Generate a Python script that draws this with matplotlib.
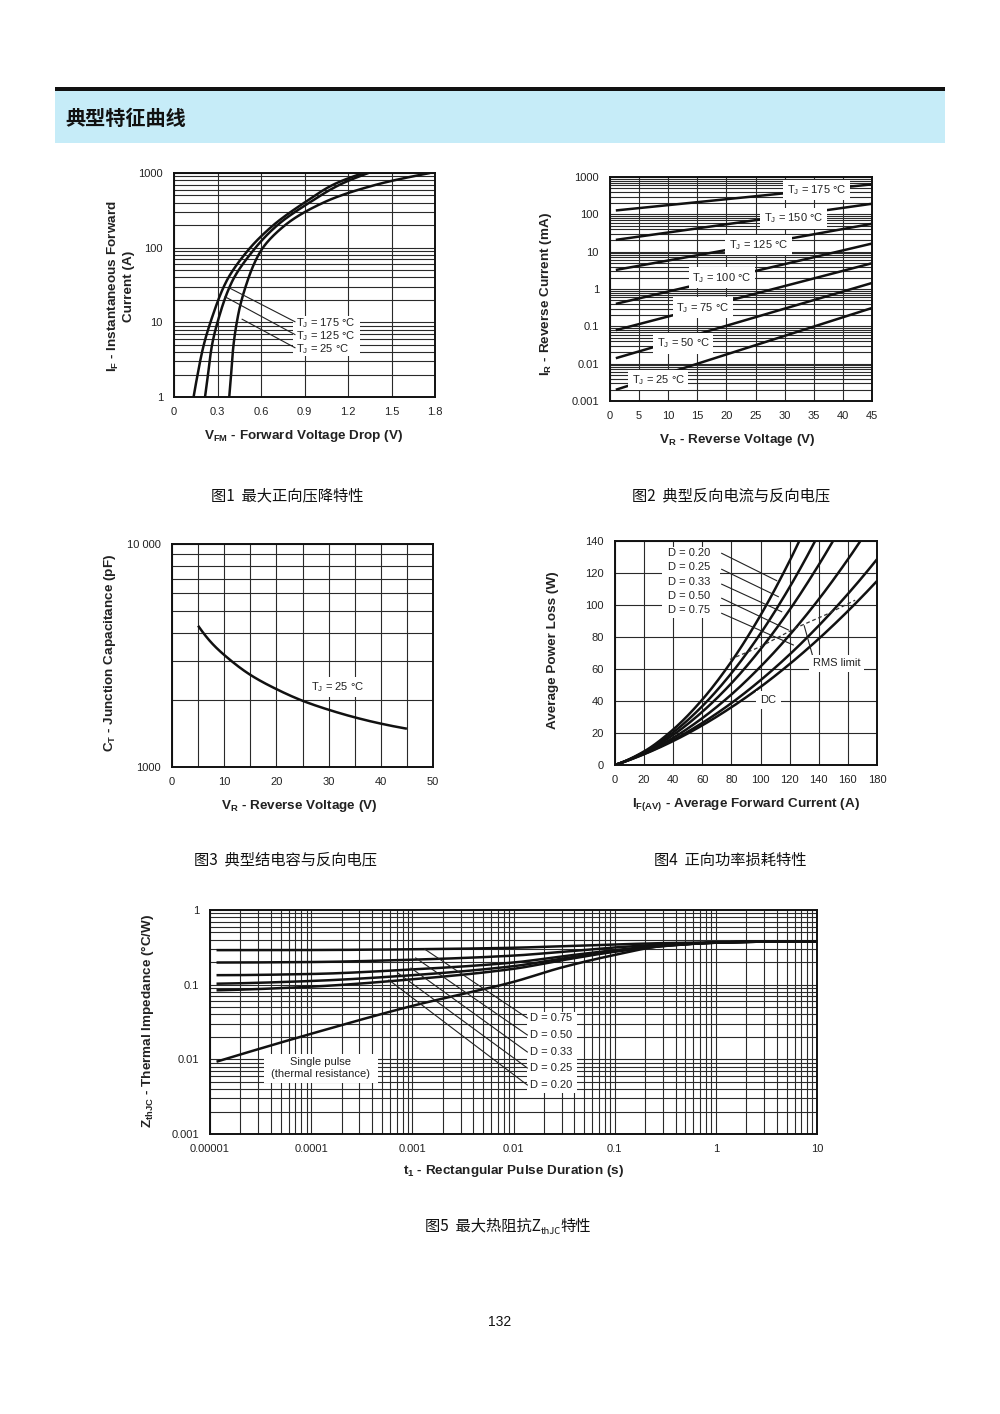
import numpy as np
import matplotlib
matplotlib.use('Agg')
import matplotlib.pyplot as plt
from matplotlib.patches import Rectangle
from matplotlib.ticker import LogLocator, NullFormatter, FixedLocator

plt.rcParams['font.family'] = ['Liberation Sans', 'DejaVu Sans']
plt.rcParams['mathtext.fontset'] = 'custom'
plt.rcParams['mathtext.rm'] = 'Liberation Sans'
plt.rcParams['mathtext.it'] = 'Liberation Sans:italic'
plt.rcParams['mathtext.bf'] = 'Liberation Sans:bold'

# ---------------- data ----------------
# Fig 1: forward characteristics (I in A, V in V)
f1_I = [1, 1.7, 4.7, 13, 35, 90, 200, 420, 700, 1000]
f1_V175 = [0.135, 0.156, 0.202, 0.271, 0.36, 0.506, 0.685, 0.915, 1.10, 1.306]
f1_V125 = [0.214, 0.230, 0.26, 0.317, 0.40, 0.543, 0.713, 0.95, 1.145, 1.341]
f1_V25 = [0.381, 0.391, 0.409, 0.444, 0.505, 0.598, 0.766, 1.053, 1.398, 1.766]
f1_labels = ['175', '125', '25']
f1_xticks = [0, 0.3, 0.6, 0.9, 1.2, 1.5, 1.8]
f1_xticklabels = ['0', '0.3', '0.6', '0.9', '1.2', '1.5', '1.8']
f1_yticks = [1, 10, 100, 1000]
f1_yticklabels = ['1', '10', '100', '1000']

# Fig 2: reverse current (mA) vs reverse voltage
f2_VR = [1, 45]
f2_temps = ['175', '150', '125', '100', '75', '50', '25']
f2_IR = [[127, 635], [20.7, 192], [3.24, 55.8], [0.40, 16.5],
         [0.079, 4.9], [0.014, 1.45], [0.002, 0.31]]
f2_lab_V = [35.5, 31.5, 25.5, 19.2, 16.0, 12.6, 8.3]
f2_lab_I = [449, 78.3, 15.1, 2.0, 0.315, 0.0351, 0.00365]
f2_xticks = [0, 5, 10, 15, 20, 25, 30, 35, 40, 45]
f2_yticks = [0.001, 0.01, 0.1, 1, 10, 100, 1000]
f2_yticklabels = ['0.001', '0.01', '0.1', '1', '10', '100', '1000']

# Fig 3: junction capacitance
f3_V = [5, 7.5, 10, 15, 20, 25, 30, 35, 40, 45]
f3_C = [4300, 3620, 3180, 2590, 2235, 1982, 1806, 1670, 1565, 1485]
f3_xticks = [0, 10, 20, 30, 40, 50]

# Fig 4: power loss
f4_I = [0, 20, 40, 60, 80, 100, 120, 140, 160, 180]
f4_DC = [0, 6.75, 15.0, 24.8, 36.1, 48.8, 63.1, 78.9, 96.2, 115.0]
f4_D075 = [0, 6.9, 15.7, 26.3, 38.7, 53.0, 69.1, 87.1, 106.9, 128.6]
f4_D050_I = [0, 20, 40, 60, 80, 100, 120, 140, 160, 168.6]
f4_D050 = [0, 7.3, 17.0, 29.3, 44.1, 61.5, 81.3, 103.6, 128.5, 140]
f4_D033_I = [0, 20, 40, 60, 80, 100, 120, 140, 149.8]
f4_D033 = [0, 7.7, 18.8, 33.3, 51.1, 72.4, 97.0, 125.1, 140]
f4_D025_I = [0, 20, 40, 60, 80, 100, 120, 137.5]
f4_D025 = [0, 8.1, 20.4, 36.8, 57.4, 82.2, 111.2, 140]
f4_D020_I = [0, 20, 40, 60, 80, 100, 120, 126.6]
f4_D020 = [0, 8.5, 22.2, 40.9, 64.7, 93.6, 127.6, 140]
f4_rms_I = [79, 100, 125, 145, 165]
f4_rms_P = [66, 74, 86, 94, 103]
f4_Dlabels = ['0.20', '0.25', '0.33', '0.50', '0.75']
f4_lab_P = [132.5, 123.75, 114.4, 105.6, 96.9]
f4_lead_start = [(73.3, 132.3), (73.3, 122.3), (73.3, 113.0), (73.3, 104.2), (73.3, 94.8)]
f4_lead_end = [(111.1, 115.2), (112.2, 105.2), (114.5, 95.8), (119.1, 84.4), (122.5, 75.0)]
f4_ticks_x = [0, 20, 40, 60, 80, 100, 120, 140, 160, 180]
f4_ticks_y = [0, 20, 40, 60, 80, 100, 120, 140]

# Fig 5: thermal impedance
f5_t = [1.16e-5, 1e-4, 1e-3, 1e-2, 3e-2, 0.1, 0.3, 1, 3, 10]
f5_single = [0.0093, 0.022, 0.052, 0.109, 0.17, 0.25, 0.33, 0.365, 0.377, 0.38]
f5_D075 = [0.29, 0.291, 0.298, 0.312, 0.328, 0.345, 0.36, 0.368, 0.377, 0.38]
f5_D050 = [0.198, 0.201, 0.216, 0.245, 0.275, 0.315, 0.345, 0.366, 0.377, 0.38]
f5_D033 = [0.134, 0.139, 0.16, 0.198, 0.239, 0.29, 0.335, 0.365, 0.377, 0.38]
f5_D025 = [0.103, 0.112, 0.134, 0.177, 0.223, 0.28, 0.33, 0.365, 0.377, 0.38]
f5_D020 = [0.084, 0.094, 0.118, 0.163, 0.212, 0.276, 0.328, 0.365, 0.377, 0.38]
f5_Dlabels = ['0.75', '0.50', '0.33', '0.25', '0.20']
f5_lab_Z = [0.0358, 0.0212, 0.01254, 0.00766, 0.00453]
f5_lead_end = [(0.00132, 0.30), (0.00108, 0.228), (0.00097, 0.167), (0.00072, 0.143), (0.000587, 0.1155)]
f5_xticks = [1e-5, 1e-4, 1e-3, 1e-2, 0.1, 1, 10]
f5_xticklabels = ['0.00001', '0.0001', '0.001', '0.01', '0.1', '1', '10']
f5_yticks = [0.001, 0.01, 0.1, 1]
f5_yticklabels = ['0.001', '0.01', '0.1', '1']

# ---------------- helpers ----------------
W, H = 1000, 1414
fig = plt.figure(figsize=(10, 14.14), dpi=100)
CJK = ['Noto Sans CJK SC', 'DejaVu Sans']
GRID = '#2a2a2a'
LBL = 9.7


def add_ax(l, t, r, b):
    return fig.add_axes([l / W, 1 - b / H, (r - l) / W, (b - t) / H])


def fp(x, y):
    return x / W, 1 - y / H


def pchip(x, y, n=300):
    """Monotone piecewise-cubic curve through the read points (x increasing)."""
    x = np.asarray(x, float)
    y = np.asarray(y, float)
    h = np.diff(x)
    d = np.diff(y) / h
    m = np.zeros_like(x)
    for k in range(1, len(x) - 1):
        if d[k - 1] * d[k] <= 0:
            m[k] = 0.0
        else:
            w1 = 2 * h[k] + h[k - 1]
            w2 = h[k] + 2 * h[k - 1]
            m[k] = (w1 + w2) / (w1 / d[k - 1] + w2 / d[k])

    def end(h0, h1, d0, d1):
        mm = ((2 * h0 + h1) * d0 - h0 * d1) / (h0 + h1)
        if np.sign(mm) != np.sign(d0):
            mm = 0.0
        elif np.sign(d0) != np.sign(d1) and abs(mm) > abs(3 * d0):
            mm = 3 * d0
        return mm

    if len(x) > 2:
        m[0] = end(h[0], h[1], d[0], d[1])
        m[-1] = end(h[-1], h[-2], d[-1], d[-2])
    else:
        m[:] = d[0]
    xs = np.linspace(x[0], x[-1], n)
    idx = np.clip(np.searchsorted(x, xs, side='right') - 1, 0, len(h) - 1)
    t = (xs - x[idx]) / h[idx]
    h00 = 2 * t ** 3 - 3 * t ** 2 + 1
    h10 = t ** 3 - 2 * t ** 2 + t
    h01 = -2 * t ** 3 + 3 * t ** 2
    h11 = t ** 3 - t ** 2
    ys = h00 * y[idx] + h10 * h[idx] * m[idx] + h01 * y[idx + 1] + h11 * h[idx] * m[idx + 1]
    return xs, ys


def style(ax):
    for s in ax.spines.values():
        s.set_linewidth(1.4)
        s.set_color('#111')
    ax.tick_params(which='both', length=0, labelsize=8, colors='#222')
    ax.set_axisbelow(True)


CURVE = dict(color='#111', lw=1.8, solid_capstyle='butt')
LEAD = dict(color='#222', lw=0.8)

# ---------------- header ----------------
fig.add_artist(Rectangle(fp(55, 143), 890 / W, 53 / H, transform=fig.transFigure,
                         fc='#c6ecf8', ec='none'))
fig.add_artist(Rectangle(fp(55, 90.5), 890 / W, 3.5 / H, transform=fig.transFigure,
                         fc='#111', ec='none'))
fig.text(*fp(65, 118), '典型特征曲线', family=CJK, fontweight='bold', fontsize=14.5,
         ha='left', va='center', color='#111')

# ---------------- Fig 1 ----------------
ax1 = add_ax(174, 173, 435, 397)
style(ax1)
ax1.set_yscale('log')
ax1.set_xlim(0, 1.8)
ax1.set_ylim(1, 1000)
ax1.set_xticks(f1_xticks)
ax1.set_xticklabels(f1_xticklabels)
ax1.set_yticks(f1_yticks)
ax1.set_yticklabels(f1_yticklabels)
ax1.yaxis.set_minor_locator(LogLocator(base=10, subs=np.arange(2, 10)))
ax1.yaxis.set_minor_formatter(NullFormatter())
ax1.grid(which='both', color=GRID, lw=0.8)
ax1.tick_params(axis='x', pad=7)
ax1.tick_params(axis='y', pad=8)
for V in (f1_V175, f1_V125, f1_V25):
    li, vv = pchip(np.log10(f1_I), V)
    ax1.plot(vv, 10 ** li, **CURVE)
ax1.add_patch(Rectangle((0.821, 3.54), 0.462, 12.2 - 3.54, fc='white', ec='none', zorder=2.5))
f1_lab_I = [9.8, 6.6, 4.4]
f1_lead_end = [(0.386, 28.6), (0.352, 22.0), (0.47, 11.0)]
for lab, yi, (xe, ye) in zip(f1_labels, f1_lab_I, f1_lead_end):
    ax1.text(0.843, yi, r'T$_\mathrm{J}$ = ' + lab + ' °C', fontsize=8, va='center', ha='left',
             zorder=4, color='#222')
    ax1.plot([0.834, xe], [yi * 1.04, ye], zorder=3, **LEAD)
fig.text(*fp(120.5, 286), 'I$_\\mathbf{F}$ - Instantaneous Forward\nCurrent (A)', rotation=90,
         ha='center', va='center', fontsize=LBL, fontweight='bold', linespacing=1.2, color='#222')
fig.text(*fp(303.5, 436), r'V$_\mathbf{FM}$ - Forward Voltage Drop (V)', ha='center', va='center',
         fontsize=LBL, fontweight='bold', color='#222')

# ---------------- Fig 2 ----------------
ax2 = add_ax(610, 177, 872, 401)
style(ax2)
ax2.set_yscale('log')
ax2.set_xlim(0, 45)
ax2.set_ylim(0.001, 1000)
ax2.set_xticks(f2_xticks)
ax2.set_yticks(f2_yticks)
ax2.set_yticklabels(f2_yticklabels)
ax2.yaxis.set_minor_locator(LogLocator(base=10, subs=np.arange(2, 10)))
ax2.yaxis.set_minor_formatter(NullFormatter())
ax2.grid(which='both', color=GRID, lw=0.8)
ax2.tick_params(axis='x', pad=7)
ax2.tick_params(axis='y', pad=8)
for ir in f2_IR:
    ax2.plot(f2_VR, ir, **CURVE)
for lab, xv, yv in zip(f2_temps, f2_lab_V, f2_lab_I):
    ax2.text(xv, yv, r'T$_\mathrm{J}$ = ' + lab + ' °C', fontsize=8, ha='center', va='center',
             zorder=4, color='#222', bbox=dict(fc='white', ec='none', pad=2.5))
fig.text(*fp(546, 294), r'I$_\mathbf{R}$ - Reverse Current (mA)', rotation=90, ha='center',
         va='center', fontsize=LBL, fontweight='bold', color='#222')
fig.text(*fp(737, 440), r'V$_\mathbf{R}$ - Reverse Voltage (V)', ha='center', va='center',
         fontsize=LBL, fontweight='bold', color='#222')

# ---------------- Fig 3 ----------------
ax3 = add_ax(172, 544, 433, 767)
style(ax3)
ax3.set_yscale('log')
ax3.set_xlim(0, 50)
ax3.set_ylim(1000, 10000)
ax3.set_xticks(f3_xticks)
ax3.xaxis.set_minor_locator(FixedLocator([5, 15, 25, 35, 45]))
ax3.set_yticks([1000, 10000])
ax3.set_yticklabels(['1000', '10 000'])
ax3.yaxis.set_minor_locator(LogLocator(base=10, subs=np.arange(2, 10)))
ax3.yaxis.set_minor_formatter(NullFormatter())
ax3.grid(which='both', color=GRID, lw=0.8)
ax3.tick_params(axis='x', pad=7)
ax3.tick_params(axis='y', pad=8)
vx, lc = pchip(f3_V, np.log10(f3_C))
ax3.plot(vx, 10 ** lc, **CURVE)
ax3.text(31.8, 2285, r'T$_\mathrm{J}$ = 25 °C', fontsize=8, ha='center', va='center', zorder=4,
         color='#222', bbox=dict(fc='white', ec='none', pad=2))
fig.text(*fp(110, 653), r'C$_\mathbf{T}$ - Junction Capacitance (pF)', rotation=90, ha='center',
         va='center', fontsize=LBL, fontweight='bold', color='#222')
fig.text(*fp(299, 806), r'V$_\mathbf{R}$ - Reverse Voltage (V)', ha='center', va='center',
         fontsize=LBL, fontweight='bold', color='#222')

# ---------------- Fig 4 ----------------
ax4 = add_ax(615, 541, 877, 765)
style(ax4)
ax4.set_xlim(0, 180)
ax4.set_ylim(0, 140)
ax4.set_xticks(f4_ticks_x)
ax4.set_yticks(f4_ticks_y)
ax4.grid(which='major', color=GRID, lw=0.8)
ax4.tick_params(axis='x', pad=7)
ax4.tick_params(axis='y', pad=8)
for xi, yi in ((f4_D020_I, f4_D020), (f4_D025_I, f4_D025), (f4_D033_I, f4_D033),
               (f4_D050_I, f4_D050), (f4_I, f4_D075), (f4_I, f4_DC)):
    xs, ys = pchip(xi, yi)
    ax4.plot(xs, ys, **CURVE)
ax4.plot(f4_rms_I, f4_rms_P, color='#333', lw=0.9, dashes=(3, 2.2))
ax4.add_patch(Rectangle((32, 92), 40, 44.5, fc='white', ec='none', zorder=2.5))
for lab, yv, (xs0, ys0), (xe, ye) in zip(f4_Dlabels, f4_lab_P, f4_lead_start, f4_lead_end):
    ax4.text(36.4, yv, 'D = ' + lab, fontsize=8, ha='left', va='center', zorder=4, color='#222')
    ax4.plot([xs0, xe], [ys0, ye], zorder=3, **LEAD)
ax4.text(152.3, 63.5, 'RMS limit', fontsize=8, ha='center', va='center', zorder=4, color='#222',
         bbox=dict(fc='white', ec='none', pad=2.5))
ax4.plot([136, 130], [67.5, 87], zorder=3, **LEAD)
ax4.text(105.3, 40.6, 'DC', fontsize=8, ha='center', va='center', zorder=4, color='#222',
         bbox=dict(fc='white', ec='none', pad=3))
fig.text(*fp(553, 650), 'Average Power Loss (W)', rotation=90, ha='center', va='center',
         fontsize=LBL, fontweight='bold', color='#222')
fig.text(*fp(746, 805), r'I$_\mathbf{F(AV)}$ - Average Forward Current (A)', ha='center',
         va='center', fontsize=LBL, fontweight='bold', color='#222')

# ---------------- Fig 5 ----------------
ax5 = add_ax(210, 910, 817, 1134)
style(ax5)
ax5.set_xscale('log')
ax5.set_yscale('log')
ax5.set_xlim(1e-5, 10)
ax5.set_ylim(0.001, 1)
ax5.set_xticks(f5_xticks)
ax5.set_xticklabels(f5_xticklabels)
ax5.set_yticks(f5_yticks)
ax5.set_yticklabels(f5_yticklabels)
for a in (ax5.xaxis, ax5.yaxis):
    a.set_minor_locator(LogLocator(base=10, subs=np.arange(2, 10)))
    a.set_minor_formatter(NullFormatter())
ax5.grid(which='both', color=GRID, lw=0.8)
ax5.tick_params(axis='x', pad=7)
ax5.tick_params(axis='y', pad=8)
for z in (f5_single, f5_D075, f5_D050, f5_D033, f5_D025, f5_D020):
    lt, lz = pchip(np.log10(f5_t), np.log10(z))
    ax5.plot(10 ** lt, 10 ** lz, **CURVE)
ax5.add_patch(Rectangle((3.39e-5, 0.00486), 4.54e-4 - 3.39e-5, 0.0118 - 0.00486, fc='white',
                        ec='none', zorder=2.5))
ax5.text(1.24e-4, 0.00766, 'Single pulse\n(thermal resistance)', fontsize=8, ha='center',
         va='center', zorder=4, color='#222', linespacing=1.3)
ax5.add_patch(Rectangle((0.0136, 0.00354), 0.042 - 0.0136, 0.0435 - 0.00354, fc='white',
                        ec='none', zorder=2.5))
for lab, zv, (xe, ye) in zip(f5_Dlabels, f5_lab_Z, f5_lead_end):
    ax5.text(0.0146, zv, 'D = ' + lab, fontsize=8, ha='left', va='center', zorder=4, color='#222')
    ax5.plot([0.0137, xe], [zv, ye], zorder=3, **LEAD)
fig.text(*fp(148, 1021), r'Z$_\mathbf{thJC}$ - Thermal Impedance (°C/W)', rotation=90,
         ha='center', va='center', fontsize=LBL, fontweight='bold', color='#222')
fig.text(*fp(513, 1171), r't$_\mathbf{1}$ - Rectangular Pulse Duration (s)', ha='center',
         va='center', fontsize=LBL, fontweight='bold', color='#222')

# ---------------- captions ----------------
CAP = dict(family=CJK, fontsize=11, ha='center', va='center', color='#111')
fig.text(*fp(287, 496), '图1  最大正向压降特性', **CAP)
fig.text(*fp(731, 496), '图2  典型反向电流与反向电压', **CAP)
fig.text(*fp(286, 860), '图3  典型结电容与反向电压', **CAP)
fig.text(*fp(730, 860), '图4  正向功率损耗特性', **CAP)

renderer = fig.canvas.get_renderer()
parts = [('图5  最大热阻抗Z', 11, 0), ('thJC', 6.8, 3), ('特性', 11, 0)]
texts = []
widths = []
for s, fs, dy in parts:
    t = fig.text(0, 0, s, family=CJK, fontsize=fs, ha='left', va='baseline', color='#111')
    texts.append(t)
    widths.append(t.get_window_extent(renderer).width)
x0 = 508 - sum(widths) / 2
base = 1231
for t, w, (s, fs, dy) in zip(texts, widths, parts):
    t.set_position(fp(x0, base + dy))
    x0 += w

fig.text(*fp(500, 1322), '132', fontsize=10, ha='center', va='center', color='#111')

fig.savefig('out.png', dpi=100, facecolor='white')
